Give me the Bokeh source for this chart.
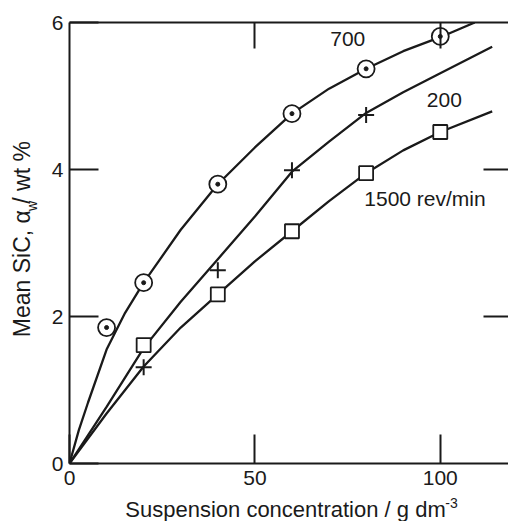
import math
from bokeh.plotting import figure
from bokeh.layouts import row, column
from bokeh.models import Label, LinearAxis, FixedTicker, CustomJSTickFormatter, Range1d
from bokeh.embed import file_html
from bokeh.resources import INLINE

# ---- data ----
curve700_x = [0, 2.5, 5, 10, 15, 20, 30, 40, 50, 60, 70, 80, 90, 100, 109.3]
curve700_y = [0, 0.45, 0.83, 1.55, 2.05, 2.46, 3.18, 3.80, 4.30, 4.76, 5.10, 5.37, 5.61, 5.80, 6.0]
curve200_x = [0, 10, 20, 30, 40, 50, 60, 70, 80, 90, 100, 114]
curve200_y = [0, 0.77, 1.57, 2.20, 2.78, 3.36, 3.97, 4.38, 4.77, 5.05, 5.31, 5.67]
curve1500_x = [0, 10, 20, 30, 40, 50, 60, 70, 80, 90, 100, 114]
curve1500_y = [0, 0.68, 1.32, 1.85, 2.30, 2.75, 3.16, 3.57, 3.95, 4.26, 4.51, 4.79]

pts700_x = [10, 20, 40, 60, 80, 100]
pts700_y = [1.85, 2.46, 3.80, 4.76, 5.37, 5.81]
pts200_x = [20, 40, 60, 80]
pts200_y = [1.31, 2.63, 3.99, 4.74]
pts1500_x = [20, 40, 60, 80, 100]
pts1500_y = [1.61, 2.30, 3.16, 3.95, 4.51]

x_ticks = [0, 50, 100]
y_ticks = [0, 2, 4, 6]
top_ticks = [50, 100]
right_ticks = [2, 4]

FONT = "Liberation Sans"
INK = "#1a1a1a"
MAIN_H = 495

p = figure(width=468, height=MAIN_H, output_backend="svg", toolbar_location=None,
           x_range=Range1d(0, 118.4), y_range=Range1d(0, 6),
           min_border_left=29, min_border_right=0, min_border_top=22, min_border_bottom=32)
p.outline_line_color = None
p.grid.visible = False
p.background_fill_color = "white"
p.border_fill_color = "white"

def style_axis(ax, ticks, tick_in, line=True, labels=True):
    ax.ticker = FixedTicker(ticks=ticks)
    ax.major_tick_in = tick_in
    ax.major_tick_out = 0
    ax.minor_tick_line_color = None
    ax.major_tick_line_width = 2
    ax.major_tick_line_color = INK
    ax.axis_line_width = 2
    ax.axis_line_color = INK if line else None
    ax.major_label_text_font = FONT
    ax.major_label_text_color = INK
    if labels:
        ax.major_label_text_font_size = "21px"
    else:
        ax.formatter = CustomJSTickFormatter(code="return ''")
        ax.major_label_text_font_size = "1px"
        ax.major_label_standoff = 0

style_axis(p.xaxis[0], x_ticks, 29)
p.xaxis[0].major_label_standoff = 7
style_axis(p.yaxis[0], y_ticks, 29)
p.yaxis[0].major_label_standoff = 6

top = LinearAxis()
style_axis(top, top_ticks, 26, line=True, labels=False)
p.add_layout(top, "above")
right = LinearAxis()
style_axis(right, right_ticks, 25, line=False, labels=False)
p.add_layout(right, "right")

for cx, cy in [(curve700_x, curve700_y), (curve200_x, curve200_y), (curve1500_x, curve1500_y)]:
    p.line(cx, cy, line_color=INK, line_width=2.3)

p.scatter(pts700_x, pts700_y, marker="circle", size=17, fill_color="white",
          line_color=INK, line_width=1.8)
p.scatter(pts700_x, pts700_y, marker="circle", size=4, fill_color=INK, line_color=INK)
p.scatter(pts200_x, pts200_y, marker="cross", size=16, line_color=INK, line_width=2)
p.scatter(pts1500_x, pts1500_y, marker="square", size=14, fill_color="white",
          line_color=INK, line_width=1.8)

def lab(fig, x, y, text, size, align="center", baseline="middle", angle=0):
    fig.add_layout(Label(x=x, y=y, text=text, text_font=FONT, text_font_size=size,
                         text_color=INK, text_align=align, text_baseline=baseline, angle=angle))

lab(p, 75.05, 5.78, "700", "21px")
lab(p, 101.1, 4.94, "200", "21px")
lab(p, 79.5, 3.61, "1500 rev/min", "21px", align="left")

def blank(w, h):
    f = figure(width=w, height=h, output_backend="svg", toolbar_location=None,
               x_range=Range1d(0, w), y_range=Range1d(0, h),
               x_axis_location=None, y_axis_location=None,
               min_border_left=0, min_border_right=0, min_border_top=0, min_border_bottom=0)
    f.outline_line_color = None
    f.grid.visible = False
    f.background_fill_color = "white"
    f.border_fill_color = "white"
    return f

# y-axis title panel: one rotated text with a gap for the subscript "w"
left = blank(40, MAIN_H)
lab(left, 21, MAIN_H - 236, "Mean SiC, α   / wt %", "23px", angle=math.pi / 2)
lab(left, 31.5, MAIN_H - 206, "w", "14px", angle=math.pi / 2)

# x-axis title panel
BOT_H = 521 - MAIN_H
bottom = blank(508, BOT_H)
lab(bottom, 285, 521 - 508.5, "Suspension concentration / g dm", "22px")
lab(bottom, 451, 521 - 502, "-3", "14px")

layout = column(row(left, p, spacing=0), bottom, spacing=0)
open("out.html", "w").write(file_html(layout, INLINE))
